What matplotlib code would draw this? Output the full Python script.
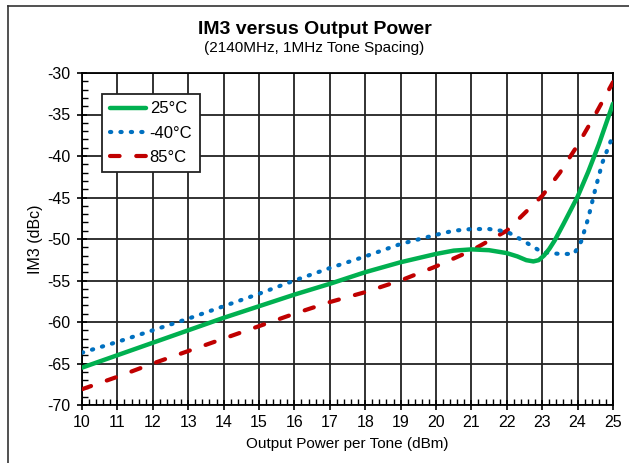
import numpy as np
import matplotlib.pyplot as plt
from matplotlib.lines import Line2D
from matplotlib.ticker import MultipleLocator

plt.rcParams['font.family'] = ['Liberation Sans', 'DejaVu Sans']
plt.rcParams['axes.unicode_minus'] = False

# data
x_25 = [10, 11, 12, 13, 14, 15, 16, 17, 18, 19, 20, 20.5, 21, 21.5, 22, 22.3, 22.55, 22.75, 22.9, 23.05, 23.2, 23.35, 23.6, 24.0, 24.3, 24.6, 25.0]
y_25 = [-65.5, -64.0, -62.5, -61.0, -59.5, -58.1, -56.7, -55.4, -54.0, -52.8, -51.8, -51.4, -51.25, -51.35, -51.7, -52.1, -52.55, -52.7, -52.55, -52.0, -51.2, -50.2, -48.2, -44.9, -41.9, -38.6, -33.7]

x_m40 = [10, 11, 12, 13, 14, 15, 16, 17, 18, 19, 20, 20.5, 21, 21.5, 22, 22.5, 23.0, 23.5, 23.9, 24.1, 24.3, 24.5, 24.7, 25.0]
y_m40 = [-63.7, -62.4, -61.0, -59.6, -58.1, -56.6, -55.0, -53.5, -52.1, -50.6, -49.5, -49.0, -48.8, -48.8, -49.1, -50.3, -51.6, -51.8, -51.8, -50.3, -47.5, -44.0, -40.8, -37.5]

x_85 = [10, 11, 12, 13, 14, 15, 16, 17, 18, 19, 20, 21, 22, 22.5, 23, 23.5, 24, 24.5, 25]
y_85 = [-68.1, -66.6, -65.0, -63.5, -62.0, -60.5, -59.0, -57.6, -56.4, -55.0, -53.3, -51.4, -49.0, -46.9, -44.8, -42.0, -38.7, -35.0, -31.1]

xticks = list(range(10, 26))
yticks = list(range(-70, -29, 5))

fig = plt.figure(figsize=(6.29, 4.63), dpi=100)
ax = fig.add_axes([82 / 629, 1 - 405 / 463, (613 - 82) / 629, (405 - 73) / 463])

ax.plot(x_25, y_25, color='#00b050', lw=3.2, label='25°C', solid_capstyle='round',
        solid_joinstyle='round', zorder=5)
ax.plot(x_m40, y_m40, color='#0070c0', lw=3, ls=(0, (0.3, 2.2)), dash_capstyle='round', label='-40°C', zorder=4)
ax.plot(x_85, y_85, color='#c00000', lw=3, ls=(0, (2.3, 4.0)), dash_capstyle='round', label='85°C', zorder=3)

ax.set_xlim(10, 25)
ax.set_ylim(-70, -30)
ax.set_xticks(xticks)
ax.set_yticks(yticks)
ax.xaxis.set_minor_locator(MultipleLocator(0.2))
ax.yaxis.set_minor_locator(MultipleLocator(1))
ax.tick_params(which='major', direction='inout', length=7, width=1.2, labelsize=11.5)
ax.tick_params(which='minor', direction='in', length=4, width=1)
ax.tick_params(axis='x', pad=4)
ax.tick_params(axis='y', pad=5)
ax.grid(True, which='major', color='#222222', lw=1.3)
for s in ax.spines.values():
    s.set_linewidth(1.3)

ax.set_xlabel('Output Power per Tone (dBm)', fontsize=11, labelpad=5)
ax.set_ylabel('IM3 (dBc)', fontsize=11.5, labelpad=3)

leg = ax.legend(loc='upper left', bbox_to_anchor=(0.038, 0.937), fontsize=12,
                frameon=True, fancybox=False, framealpha=1, edgecolor='#222222',
                handlelength=2.2, handletextpad=0.2, labelspacing=0.55, borderpad=0.45,
                borderaxespad=0)
leg.get_frame().set_linewidth(1.3)

fig.text(0.5, 1 - 30 / 463, 'IM3 versus Output Power', ha='center', va='center',
         fontsize=14, fontweight='bold')
fig.text(0.5, 1 - 48 / 463, '(2140MHz, 1MHz Tone Spacing)', ha='center', va='center',
         fontsize=11)

# outer frame (top and left only)
fig.add_artist(Line2D([8 / 629, 8 / 629], [0, 1 - 5.5 / 463], transform=fig.transFigure, color='#333333', lw=1.2))
fig.add_artist(Line2D([8 / 629, 1], [1 - 5.5 / 463, 1 - 5.5 / 463], transform=fig.transFigure, color='#333333', lw=1.2))

fig.savefig('out.png', dpi=100)
